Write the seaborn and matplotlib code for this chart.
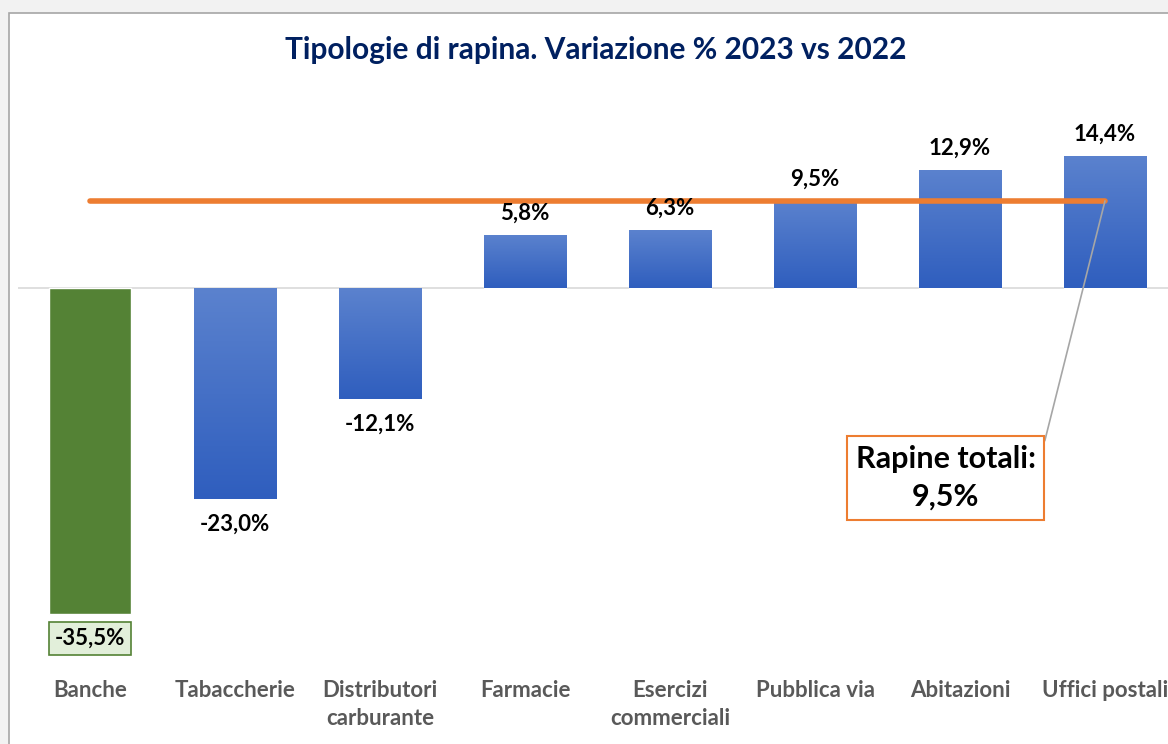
import numpy as np
import matplotlib
matplotlib.use("Agg")
import matplotlib.pyplot as plt
import seaborn as sns
from matplotlib.patches import Rectangle
from matplotlib.colors import LinearSegmentedColormap

categories = ["Banche", "Tabaccherie", "Distributori\ncarburante", "Farmacie",
              "Esercizi\ncommerciali", "Pubblica via", "Abitazioni", "Uffici postali"]
values = [-35.5, -23.0, -12.1, 5.8, 6.3, 9.5, 12.9, 14.4]
total_value = 9.5
title = "Tipologie di rapina. Variazione % 2023 vs 2022"
total_label = "Rapine totali:\n9,5%"

sns.set_theme(style="white")
plt.rcParams['font.family'] = ['Lato', 'DejaVu Sans']

BLUE = "#4472C4"
GREEN = "#548235"
ORANGE = "#ED7D31"
colors = [GREEN] + [BLUE] * (len(categories) - 1)

fig = plt.figure(figsize=(11.68, 7.44), dpi=100, facecolor="#F2F2F2")
W, H = 1168, 744
frame = Rectangle((9 / W, -0.1), 1.2, 1 - 13 / H + 0.1, transform=fig.transFigure,
                  facecolor="white", edgecolor="#A6A6A6", linewidth=1.2, zorder=-10)
fig.add_artist(frame)

ax = fig.add_axes([17.5 / W, (744 - 654.8) / H, 1160 / W, (654.8 - 141.3) / H])
ax.set_facecolor("none")
ax.patch.set_alpha(0)
sns.barplot(x=categories, y=values, hue=categories, palette=colors, legend=False,
            width=0.566, ax=ax, saturation=1, zorder=2)
ax.set_xlim(-0.5, 7.5)
ax.set_ylim(-40, 16)
ax.axhline(0, color="#D9D9D9", linewidth=1.2, zorder=1)

# gradient on blue bars
cmap = LinearSegmentedColormap.from_list("g", ["#2F5EBE", "#5B82CE"])
grad = np.linspace(0, 1, 256).reshape(-1, 1)
for i, p in enumerate(list(ax.patches)):
    if i == 0:
        continue
    x0, y0 = p.get_x(), p.get_y()
    w, h = p.get_width(), p.get_height()
    ylo, yhi = min(y0, y0 + h), max(y0, y0 + h)
    im = ax.imshow(grad, extent=[x0, x0 + w, ylo, yhi], origin="lower", cmap=cmap,
                   aspect="auto", zorder=2.5)
    im.set_clip_path(p)
ax.set_xlim(-0.5, 7.5)
ax.set_ylim(-40, 16)

def fmt(v):
    return f"{v:.1f}%".replace(".", ",")

FS = 16
for i, v in enumerate(values):
    if v >= 0:
        ax.annotate(fmt(v), (i, v), xytext=(0, 8), textcoords="offset points",
                    ha="center", va="bottom", fontsize=FS, fontweight="bold", color="black", zorder=5)
    elif i == 0:
        ax.annotate(fmt(v), (i, v), xytext=(0, -18), textcoords="offset points",
                    ha="center", va="center", fontsize=FS, fontweight="bold", color="black", zorder=5,
                    bbox=dict(boxstyle="square,pad=0.28", fc="#E2EFDA", ec=GREEN, lw=1.2))
    else:
        ax.annotate(fmt(v), (i, v), xytext=(0, -18), textcoords="offset points",
                    ha="center", va="center", fontsize=FS, fontweight="bold", color="black", zorder=5)

# total line
ax.plot([0, len(categories) - 1], [total_value, total_value], color=ORANGE,
        linewidth=4, solid_capstyle="round", zorder=4)

ax.annotate(total_label, xy=(len(categories) - 1, total_value), xytext=(5.9, -20.7),
            textcoords="data", ha="center", va="center", fontsize=22, fontweight="bold",
            color="black", linespacing=1.45, zorder=6,
            bbox=dict(boxstyle="square,pad=0.28", fc="white", ec=ORANGE, lw=1.5),
            arrowprops=dict(arrowstyle="-", color="#A6A6A6", lw=1.2, relpos=(1, 0.5),
                            shrinkA=0, shrinkB=0))

ax.set_xticks(range(len(categories)))
ax.set_xticklabels(categories, fontsize=16, fontweight="bold", color="#595959")
for lab in ax.get_xticklabels():
    lab.set_linespacing(1.4)
ax.tick_params(axis="x", length=0, pad=18)
ax.set_yticks([])
ax.set_xlabel("")
ax.set_ylabel("")
for s in ax.spines.values():
    s.set_visible(False)

fig.text(596 / W, 1 - 50 / H, title, ha="center", va="center", fontsize=21.5,
         fontweight="bold", color="#002060")

fig.savefig("out.png", dpi=100, facecolor=fig.get_facecolor())
